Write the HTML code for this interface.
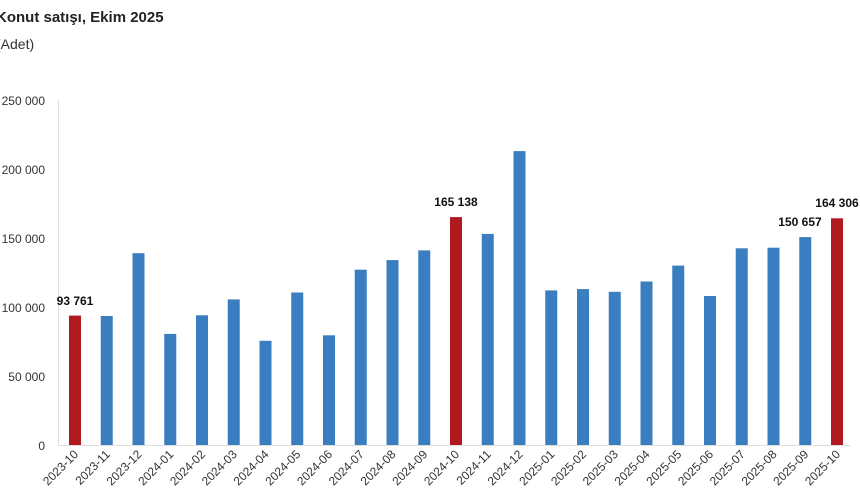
<!DOCTYPE html><html><head><style>body{margin:0;background:#fff}svg{display:block}</style></head><body>
<svg width="860" height="504" xmlns="http://www.w3.org/2000/svg" font-family="Liberation Sans, sans-serif">
<text x="-4" y="22" font-size="15" font-weight="bold" fill="#222">Konut satışı, Ekim 2025</text>
<text x="-4" y="49" font-size="14" fill="#333">(Adet)</text>
<g font-size="12" fill="#333" text-anchor="end">
<text x="45" y="105">250 000</text><text x="45" y="174">200 000</text><text x="45" y="243">150 000</text>
<text x="45" y="312">100 000</text><text x="45" y="381">50 000</text><text x="45" y="450">0</text></g>
<line x1="58.5" y1="100" x2="58.5" y2="445" stroke="#ddd"/>
<line x1="58" y1="445.5" x2="850" y2="445.5" stroke="#ddd"/>
<g fill="#3a7ebf">
<rect x="100.75" y="316" width="12" height="129"/>
<rect x="132.5" y="253.2" width="12" height="191.8"/>
<rect x="164.25" y="333.9" width="12" height="111.1"/>
<rect x="196" y="315.3" width="12" height="129.7"/>
<rect x="227.75" y="299.4" width="12" height="145.6"/>
<rect x="259.5" y="340.8" width="12" height="104.2"/>
<rect x="291.25" y="292.5" width="12" height="152.5"/>
<rect x="323" y="335.3" width="12" height="109.7"/>
<rect x="354.75" y="269.7" width="12" height="175.3"/>
<rect x="386.5" y="260.1" width="12" height="184.9"/>
<rect x="418.25" y="250.4" width="12" height="194.6"/>
<rect x="481.75" y="233.9" width="12" height="211.1"/>
<rect x="513.5" y="151.1" width="12" height="293.9"/>
<rect x="545.25" y="290.4" width="12" height="154.6"/>
<rect x="577" y="289.1" width="12" height="155.9"/>
<rect x="608.75" y="291.8" width="12" height="153.2"/>
<rect x="640.5" y="281.5" width="12" height="163.5"/>
<rect x="672.25" y="265.6" width="12" height="179.4"/>
<rect x="704" y="296" width="12" height="149"/>
<rect x="735.75" y="248.3" width="12" height="196.7"/>
<rect x="767.5" y="247.7" width="12" height="197.3"/>
<rect x="799.25" y="237.1" width="12" height="207.9"/>
</g>
<g fill="#b01a1f">
<rect x="69" y="315.6" width="12" height="129.4"/>
<rect x="450" y="217.1" width="12" height="227.9"/>
<rect x="831" y="218.3" width="12" height="226.7"/>
</g>
<g font-size="12" font-weight="bold" fill="#111" text-anchor="middle">
<text x="75" y="305">93 761</text>
<text x="456" y="206">165 138</text>
<text x="800" y="226">150 657</text>
<text x="837" y="207">164 306</text>
</g>
<g font-size="12" fill="#333" text-anchor="end">
<text transform="translate(79,455) rotate(-45)">2023-10</text>
<text transform="translate(110.75,455) rotate(-45)">2023-11</text>
<text transform="translate(142.5,455) rotate(-45)">2023-12</text>
<text transform="translate(174.25,455) rotate(-45)">2024-01</text>
<text transform="translate(206,455) rotate(-45)">2024-02</text>
<text transform="translate(237.75,455) rotate(-45)">2024-03</text>
<text transform="translate(269.5,455) rotate(-45)">2024-04</text>
<text transform="translate(301.25,455) rotate(-45)">2024-05</text>
<text transform="translate(333,455) rotate(-45)">2024-06</text>
<text transform="translate(364.75,455) rotate(-45)">2024-07</text>
<text transform="translate(396.5,455) rotate(-45)">2024-08</text>
<text transform="translate(428.25,455) rotate(-45)">2024-09</text>
<text transform="translate(460,455) rotate(-45)">2024-10</text>
<text transform="translate(491.75,455) rotate(-45)">2024-11</text>
<text transform="translate(523.5,455) rotate(-45)">2024-12</text>
<text transform="translate(555.25,455) rotate(-45)">2025-01</text>
<text transform="translate(587,455) rotate(-45)">2025-02</text>
<text transform="translate(618.75,455) rotate(-45)">2025-03</text>
<text transform="translate(650.5,455) rotate(-45)">2025-04</text>
<text transform="translate(682.25,455) rotate(-45)">2025-05</text>
<text transform="translate(714,455) rotate(-45)">2025-06</text>
<text transform="translate(745.75,455) rotate(-45)">2025-07</text>
<text transform="translate(777.5,455) rotate(-45)">2025-08</text>
<text transform="translate(809.25,455) rotate(-45)">2025-09</text>
<text transform="translate(841,455) rotate(-45)">2025-10</text>
</g>
</svg></body></html>
